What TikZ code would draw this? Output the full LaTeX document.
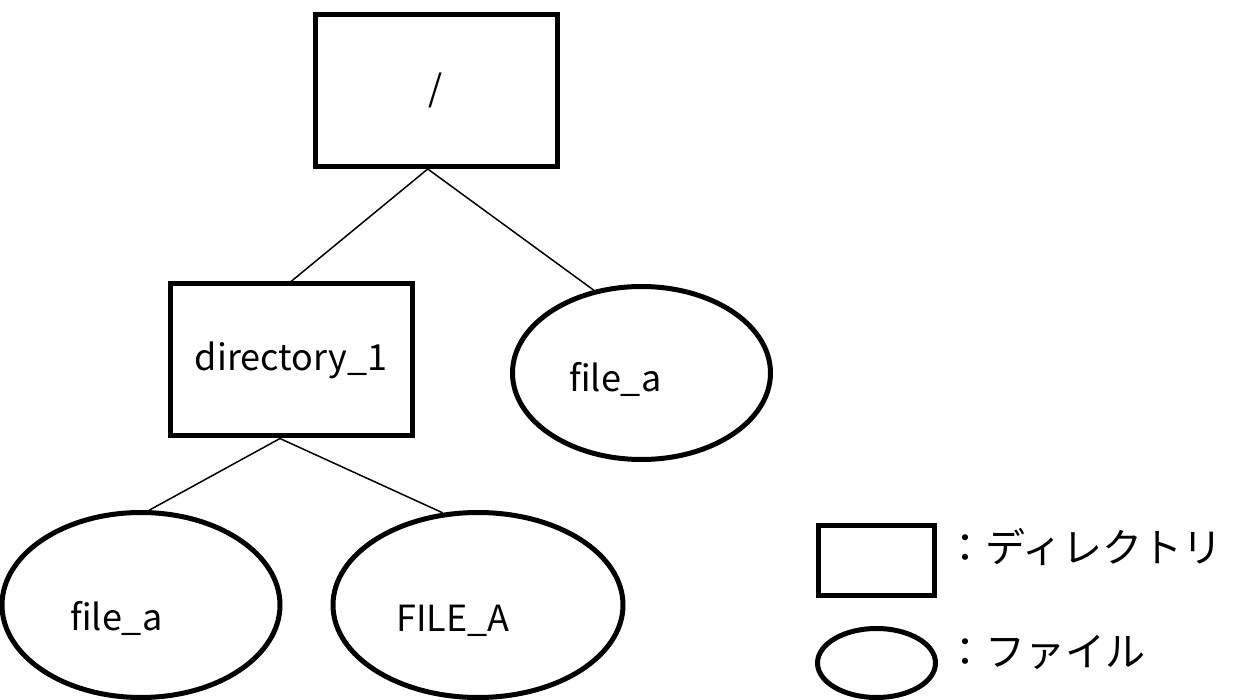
\documentclass[tikz,border=0pt]{standalone}
\usepackage{fontspec}
\setmainfont{Noto Sans CJK JP}
\usetikzlibrary{shapes, positioning}

\begin{document}
\begin{tikzpicture}[x=1pt, y=-1pt,
        dirbox/.style={rectangle, draw, line width=5pt, minimum width=242pt, minimum height=152pt, inner sep=0pt, font=\fontsize{36}{42}\selectfont},
        filebox/.style={ellipse, draw, line width=5pt, inner sep=0pt, minimum height=185pt},
        fname/.style={font=\fontsize{36}{42}\selectfont, anchor=base west, inner sep=0pt},
        legendtext/.style={font=\fontsize{40}{48}\selectfont, anchor=west, inner sep=0pt},
        line/.style={-, line width=1.5pt}
    ]
        \useasboundingbox (0,0) rectangle (1240,700);

        % Directories
        \node[dirbox] (root) at (436,90.5) {/};
        \node[dirbox] (dir1) at (291,360) {directory\_1};

        % Files
        \node[filebox, minimum width=258pt, minimum height=173pt] (fileR) at (641.5,373) {};
        \node[fname] (fileRname) at (569,392) {file\_a};
        \node[filebox, minimum width=278pt] (fileL) at (141,605) {};
        \node[fname] (fileLname) at (70,630) {file\_a};
        \node[filebox, minimum width=290pt] (fileA) at (478,605) {};
        \node[fname] (fileAname) at (396,631) {FILE\_A};

        \draw[line] (root.-96) -- (dir1.north);
        \draw[line] (root.-96) -- (fileR.120);
        \draw[line] (dir1.-98) -- (fileL.85);
        \draw[line] (dir1.-98) -- (fileA.111);

        % Legend
        \node[dirbox, minimum width=116pt, minimum height=70pt] (keyDir) at (876.5,560.5) {};
        \node[legendtext] (keyDirText) at (945,547) {：ディレクトリ};
        \node[filebox, minimum width=118pt, minimum height=69pt] (keyFile) at (876.5,663) {};
        \node[legendtext] (keyFileText) at (945,652) {：ファイル};
    \end{tikzpicture}
\end{document}
